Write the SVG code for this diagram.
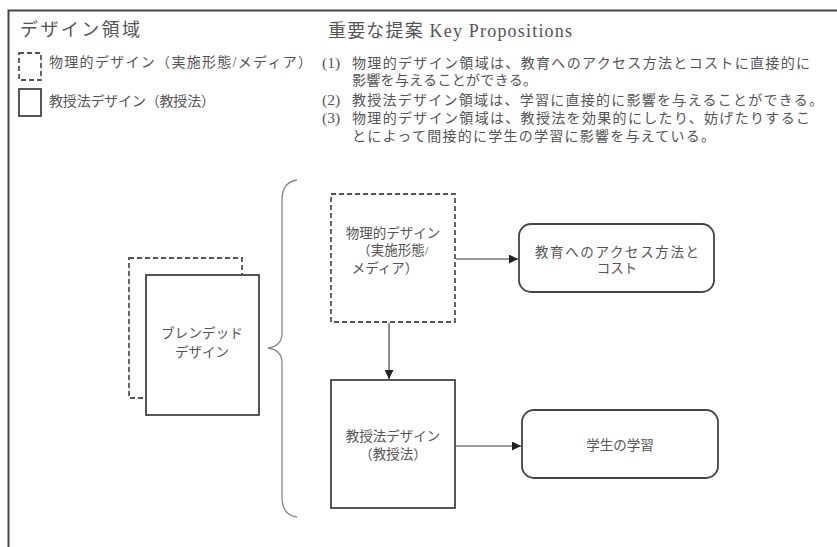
<svg xmlns="http://www.w3.org/2000/svg" width="837" height="547" viewBox="0 0 837 547">
<defs>
<style>
text{font-family:"Liberation Serif","Noto Sans CJK JP",serif;fill:#555;}
.t{font-size:14px;}
.n{font-size:15.5px;}
.c{text-anchor:middle;font-size:13.5px;}
.box{fill:#fff;stroke:#444;stroke-width:1.8;}
.dash{fill:#fff;stroke:#555;stroke-width:1.8;stroke-dasharray:5 3;}
.edge{fill:none;stroke:#333;stroke-width:1.1;}
</style>
<marker id="ah" viewBox="0 0 10 10" refX="10" refY="5" markerWidth="9" markerHeight="9" markerUnits="userSpaceOnUse" orient="auto"><path d="M0,0 L10,5 L0,10 z" fill="#222"/></marker>
</defs>
<rect width="837" height="547" fill="#fff"/>
<path d="M8.5,547 V10.5 H837" fill="none" stroke="#444" stroke-width="2"/>

<g id="legend">
<text x="20" y="36" font-size="18" textLength="120">デザイン領域</text>
<rect x="19" y="53" width="22" height="27" class="dash" stroke-dasharray="4 3"/>
<text x="49" y="67" class="t" textLength="263">物理的デザイン（実施形態/メディア）</text>
<rect x="19" y="89" width="22" height="27" class="box"/>
<text x="49" y="106" class="t" textLength="166">教授法デザイン（教授法）</text>
</g>

<g id="propositions">
<text x="328" y="37" font-size="18" textLength="244">重要な提案 Key Propositions</text>
<text x="322" y="68" class="n">(1)</text>
<text x="352" y="68" class="t" textLength="458">物理的デザイン領域は、教育へのアクセス方法とコストに直接的に</text>
<text x="352" y="85" class="t" textLength="185">影響を与えることができる。</text>
<text x="322" y="105" class="n">(2)</text>
<text x="352" y="105" class="t" textLength="471">教授法デザイン領域は、学習に直接的に影響を与えることができる。</text>
<text x="322" y="123" class="n">(3)</text>
<text x="352" y="123" class="t" textLength="458">物理的デザイン領域は、教授法を効果的にしたり、妨げたりするこ</text>
<text x="352" y="141" class="t" textLength="363">とによって間接的に学生の学習に影響を与えている。</text>
</g>

<g id="blended">
<rect x="129" y="258" width="113" height="140" class="dash" fill="none"/>
<rect x="146" y="275" width="113" height="140" class="box"/>
<text x="202" y="338" class="c" textLength="82">ブレンデッド</text>
<text x="202" y="357" class="c">デザイン</text>
</g>

<g id="brace">
<path d="M297,180 Q282,182 282,200 V333 Q282,346 268,348 Q282,350 282,363 V497 Q282,515 297,517" fill="none" stroke="#888" stroke-width="1.3"/>
</g>

<g id="physical">
<rect x="331" y="194" width="124" height="128" class="dash"/>
<text x="393" y="238" class="c">物理的デザイン</text>
<text x="393" y="255" class="c">（実施形態/</text>
<text x="385" y="273" class="c">メディア）</text>
</g>

<g id="pedagogical">
<rect x="331" y="380" width="124" height="128" class="box"/>
<text x="393" y="441" class="c">教授法デザイン</text>
<text x="393" y="459" class="c">（教授法）</text>
</g>

<g id="access">
<rect x="519" y="224" width="195" height="68" rx="12" class="box"/>
<text x="617" y="257" class="c" font-size="14" textLength="164">教育へのアクセス方法と</text>
<text x="617" y="273" class="c" font-size="14">コスト</text>
</g>

<g id="learning">
<rect x="522" y="410" width="196" height="68" rx="12" class="box"/>
<text x="620" y="450" class="c" font-size="14">学生の学習</text>
</g>

<g id="connectors">
<line x1="456" y1="259" x2="518" y2="259" class="edge" marker-end="url(#ah)"/>
<line x1="389" y1="323" x2="389" y2="379" class="edge" marker-end="url(#ah)"/>
<line x1="456" y1="446" x2="521" y2="446" class="edge" marker-end="url(#ah)"/>
</g>
</svg>
